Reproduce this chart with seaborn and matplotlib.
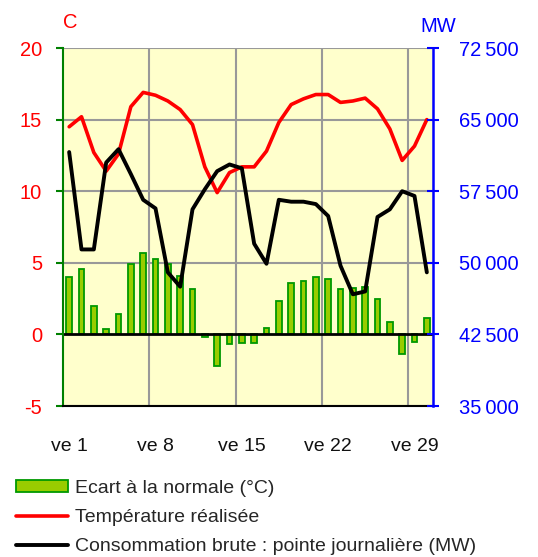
import numpy as np
import pandas as pd
import matplotlib
matplotlib.use("Agg")
import matplotlib.pyplot as plt
from matplotlib.patches import Patch
from matplotlib.lines import Line2D
import seaborn as sns

# ---- data ----
days = list(range(1, 31))
ecart = [4.0, 4.55, 2.0, 0.4, 1.45, 4.9, 5.7, 5.3, 4.9, 4.1, 3.15, -0.15, -2.2, -0.7, -0.6,
         -0.6, 0.45, 2.3, 3.6, 3.7, 4.0, 3.85, 3.15, 3.25, 3.3, 2.45, 0.9, -1.4, -0.55, 1.15]
temperature = [14.5, 15.2, 12.7, 11.4, 12.6, 15.9, 16.9, 16.7, 16.3, 15.7, 14.65, 11.7, 9.9, 11.3, 11.7,
               11.7, 12.8, 14.8, 16.05, 16.45, 16.75, 16.75, 16.2, 16.3, 16.5, 15.75, 14.35, 12.15, 13.15, 15.0]
consommation = [61600, 51400, 51400, 60500, 61900, 59300, 56600, 55700, 49000, 47500, 55600, 57700, 59600, 60300, 59900,
                52000, 49900, 56600, 56400, 56400, 56150, 54900, 49700, 46700, 47000, 54800, 55600, 57500, 57000, 49000]
xtick_days = [1, 8, 15, 22, 29]
xtick_labels = ["ve 1", "ve 8", "ve 15", "ve 22", "ve 29"]
left_ticks = [20, 15, 10, 5, 0, -5]
left_labels = ["20", "15", "10", "5", "0", "-5"]
right_ticks = [72500, 65000, 57500, 50000, 42500, 35000]
right_labels = ["72\u2009500", "65\u2009000", "57\u2009500", "50\u2009000", "42\u2009500", "35\u2009000"]
legend_labels = ["Ecart à la normale (°C)", "Température réalisée",
                 "Consommation brute : pointe journalière (MW)"]

df = pd.DataFrame({"day": days, "ecart": ecart, "temp": temperature, "mw": consommation})
df["pos"] = np.arange(len(df))

sns.set_style("white")
plt.rcParams["font.family"] = ["Liberation Sans", "DejaVu Sans"]

W, H = 538, 557
fig = plt.figure(figsize=(W / 100, H / 100), dpi=100)
ax = fig.add_axes([63 / W, 1 - 406 / H, (433 - 63) / W, (406 - 48) / H])
ax.set_facecolor("#FFFFCC")

sns.barplot(data=df, x="pos", y="ecart", ax=ax, width=0.45, color="#99CC00",
            edgecolor="#009900", linewidth=1.3, saturation=1, zorder=2)
sns.lineplot(data=df, x="pos", y="temp", ax=ax, color="#FF0000", linewidth=2.6, zorder=3)

ax.set_xlim(-0.5, 29.5)
ax.set_ylim(-5, 20)
ax.set_axisbelow(True)
ax.set_xlabel("")
ax.set_ylabel("")

# grid
for v in [6.5, 13.5, 20.5, 27.5]:
    ax.axvline(v, color="#999999", lw=1.5, zorder=0.5)
for h in [20, 15, 10, 5, -5]:
    ax.axhline(h, color="#999999", lw=1.5, zorder=0.5)
ax.axhline(0, color="black", lw=2, zorder=2.5)

# spines
for s in ["top", "right"]:
    ax.spines[s].set_visible(False)
ax.spines["left"].set_color("#008000")
ax.spines["left"].set_linewidth(1.5)
ax.spines["bottom"].set_color("black")
ax.spines["bottom"].set_linewidth(1.5)

ax.set_yticks(left_ticks)
ax.set_yticklabels(left_labels)
ax.tick_params(axis="y", colors="#008000", labelcolor="#FF0000", direction="out",
               length=5, width=1.5, labelsize=14.5, pad=10)

ax.set_xticks([d - 1 for d in xtick_days])
ax.set_xticklabels(xtick_labels)
ax.tick_params(axis="x", length=0, labelsize=14, pad=23, labelcolor="#111111")
ax.set_xticks(np.arange(-0.5, 30, 1), minor=True)
ax.tick_params(axis="x", which="minor", direction="in", length=5, width=1.2, color="black")

# right axis
ax2 = ax.twinx()
sns.lineplot(data=df, x="pos", y="mw", ax=ax2, color="black", linewidth=2.8, zorder=4)
ax2.set_ylim(35000, 72500)
ax2.set_xlim(-0.5, 29.5)
ax2.set_ylabel("")
for s in ["top", "left", "bottom"]:
    ax2.spines[s].set_visible(False)
ax2.spines["right"].set_color("#0000FF")
ax2.spines["right"].set_linewidth(1.8)
ax2.set_yticks(right_ticks)
ax2.set_yticklabels(right_labels)
ax2.tick_params(axis="y", colors="#0000FF", labelcolor="#0000FF", direction="inout",
                length=9, width=1.5, labelsize=14.5, pad=14)

fig.text(70 / W, 1 - 22 / H, "C", color="#FF0000", fontsize=14.5, ha="center", va="center")
fig.text(438 / W, 1 - 27 / H, "MW", color="#0000FF", fontsize=14.5, ha="center", va="center")

handles = [Patch(facecolor="#99CC00", edgecolor="#009900", linewidth=1.3),
           Line2D([0], [0], color="#FF0000", lw=2.6),
           Line2D([0], [0], color="black", lw=2.8)]
fig.legend(handles, legend_labels, loc="upper left", bbox_to_anchor=(16 / W, 1 - 480 / H),
           frameon=False, fontsize=14, handlelength=2.68, handleheight=0.55,
           handletextpad=0.36, labelspacing=0.62, borderaxespad=0, borderpad=0)

fig.savefig("out.png", dpi=100)
